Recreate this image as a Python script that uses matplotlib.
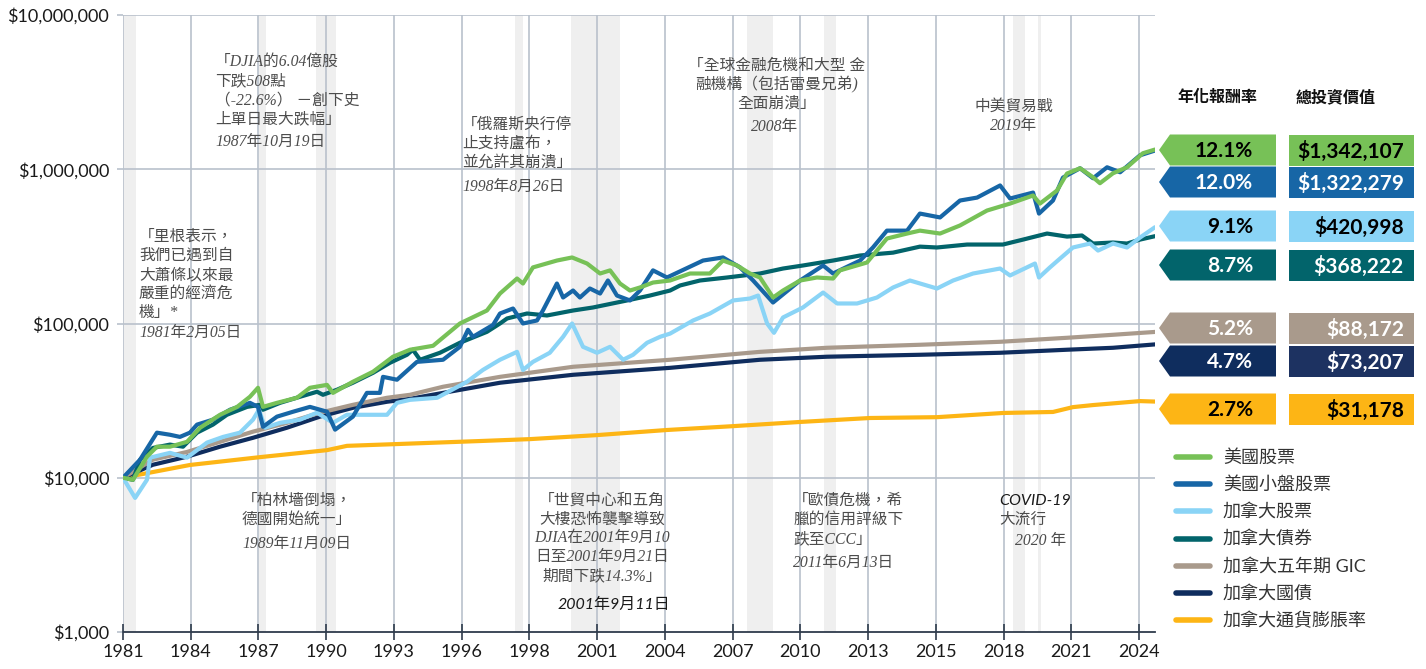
import numpy as np
import matplotlib
matplotlib.use("Agg")
import matplotlib.pyplot as plt
from matplotlib.patches import Polygon, Rectangle

plt.rcParams['font.family'] = ['Lato', 'Noto Sans CJK TC']
plt.rcParams['axes.unicode_minus'] = False

# ---- data ----
us_years = [1981.00, 1981.42, 1982.01, 1982.43, 1982.98, 1983.70, 1984.25, 1985.09, 1985.81, 1986.35,
            1986.69, 1986.90, 1987.49, 1988.33, 1988.88, 1989.60, 1989.85, 1990.69, 1991.54, 1992.38,
            1993.10, 1994.07, 1995.20, 1996.34, 1996.89, 1997.61, 1997.86, 1998.28, 1999.29, 1999.93,
            2000.56, 2001.11, 2001.53, 2001.95, 2002.37, 2002.79, 2003.34, 2004.06, 2004.90, 2005.74,
            2006.29, 2006.88, 2007.43, 2007.85, 2008.40, 2008.82, 2009.54, 2010.25, 2010.93, 2011.22,
            2012.36, 2013.20, 2014.05, 2014.59, 2015.44, 2016.28, 2017.42, 2018.39, 2019.36, 2019.65,
            2020.37, 2020.79, 2021.34, 2021.89, 2022.18, 2022.73, 2023.32, 2023.99, 2024.50]
us_values = [10000, 9700, 13700, 15900, 15900, 17100, 21100, 25600, 28800, 33500,
             38300, 28800, 30600, 33000, 38300, 40000, 35500, 41900, 48700, 60900,
             67600, 71700, 100000, 121400, 156400, 195700, 181600, 231000, 256000, 268000,
             244800, 210900, 221000, 181600, 163600, 171200, 184300, 190000, 210900, 210900,
             256000, 237700, 210900, 198700, 147400, 163600, 190000, 198700, 195700, 221000,
             248600, 355500, 383000, 400000, 383000, 432000, 540000, 599000, 676000, 599000,
             728000, 938000, 1015000, 887000, 812000, 942000, 1030000, 1270000, 1342107]

small_years = [1981.00, 1981.72, 1982.43, 1982.98, 1983.40, 1983.82, 1984.12, 1984.79, 1985.51, 1986.35,
               1986.69, 1986.90, 1987.49, 1988.17, 1988.88, 1989.60, 1989.94, 1990.69, 1991.28, 1991.83,
               1991.96, 1992.55, 1993.39, 1994.49, 1995.20, 1995.54, 1995.75, 1996.60, 1996.89, 1997.44,
               1997.86, 1998.45, 1998.70, 1999.29, 1999.55, 1999.97, 2000.26, 2000.68, 2001.11, 2001.44,
               2001.82, 2002.37, 2002.79, 2003.34, 2003.93, 2005.45, 2006.29, 2007.01, 2007.56, 2008.40,
               2009.54, 2010.51, 2010.93, 2012.07, 2012.61, 2013.20, 2014.05, 2014.59, 2015.44, 2016.28,
               2017.00, 2017.97, 2018.39, 2019.36, 2019.61, 2020.20, 2020.62, 2021.34, 2021.89, 2022.48,
               2023.03, 2023.87, 2024.50]
small_values = [10000, 13100, 19600, 19000, 18400, 19600, 22100, 23800, 27600, 30600,
                28800, 21400, 24900, 26800, 28800, 26800, 20500, 24900, 35500, 35500,
                45100, 43200, 56400, 58200, 70600, 91000, 82000, 98000, 116100, 125100,
                100000, 104600, 121400, 181600, 147400, 163600, 147400, 168600, 156400, 190000,
                151800, 141000, 163600, 221000, 198700, 256000, 268000, 231000, 190000, 136800,
                190000, 237700, 210900, 256000, 311000, 400000, 400000, 516000, 487000, 627000,
                655000, 785000, 646000, 706000, 516000, 627000, 883000, 1015000, 874000, 1030000,
                956000, 1232000, 1322279]

cad_years = [1981.00, 1981.51, 1982.01, 1982.14, 1982.98, 1983.70, 1984.54, 1985.22, 1985.93, 1986.48,
             1986.73, 1986.99, 1987.62, 1988.46, 1989.18, 1989.85, 1990.44, 1991.28, 1992.13, 1992.55,
             1993.10, 1994.24, 1995.50, 1996.17, 1996.89, 1997.61, 1997.86, 1998.28, 1998.99, 1999.55,
             1999.93, 2000.39, 2000.98, 2001.53, 2002.08, 2002.50, 2003.09, 2003.64, 2004.06, 2005.03,
             2005.74, 2006.71, 2007.43, 2007.77, 2008.15, 2008.44, 2008.82, 2009.66, 2010.51, 2011.10,
             2011.94, 2012.78, 2013.46, 2014.17, 2015.31, 2015.99, 2016.83, 2017.97, 2018.39, 2019.44,
             2019.61, 2020.07, 2020.50, 2021.04, 2021.76, 2022.10, 2022.73, 2023.32, 2023.87, 2024.50]
cad_values = [10000, 7400, 9700, 13500, 14500, 13500, 16900, 18400, 19600, 23800,
              27600, 21100, 22700, 23800, 26400, 22700, 25600, 25600, 25600, 30600,
              32000, 33000, 41900, 50000, 58200, 65500, 50000, 56400, 64600, 82000,
              100000, 70600, 64600, 70600, 58200, 62700, 75000, 82000, 86000, 104600,
              116100, 141000, 145200, 151800, 100000, 87000, 109400, 127000, 158800, 134800,
              134800, 147400, 171200, 190000, 168600, 190000, 210900, 227200, 204800, 244800,
              198700, 231000, 263800, 311000, 329900, 297000, 329900, 311000, 361000, 420998]

bond_years = [1981.00, 1981.42, 1981.72, 1982.26, 1982.98, 1983.53, 1984.12, 1984.79, 1985.38, 1986.23,
              1986.77, 1986.90, 1987.62, 1988.46, 1989.18, 1989.43, 1990.02, 1990.69, 1991.54, 1992.25,
              1992.97, 1993.22, 1993.52, 1994.36, 1995.20, 1996.34, 1996.89, 1997.19, 1998.03, 1998.87,
              1999.97, 2000.81, 2002.24, 2003.21, 2004.06, 2004.48, 2005.32, 2006.46, 2007.85, 2008.82,
              2009.66, 2010.93, 2012.07, 2013.46, 2014.59, 2015.31, 2016.58, 2018.09, 2018.94, 2019.95,
              2020.79, 2021.42, 2021.89, 2022.73, 2023.32, 2023.87, 2024.50]
bond_values = [10000, 9700, 13100, 15600, 16400, 15900, 19600, 22100, 25600, 28800,
               29700, 27600, 30600, 33500, 36100, 34500, 37200, 41300, 47900, 55600,
               62700, 67600, 58200, 64600, 75000, 88300, 100000, 107800, 116100, 112700,
               121400, 127000, 141000, 151800, 163600, 176400, 190000, 198700, 210900, 227200,
               237700, 256000, 276000, 288000, 315000, 311000, 325000, 325000, 350000, 383000,
               366000, 372000, 329900, 335000, 329900, 350000, 368222]

gic_years = [1981.00, 1982.26, 1983.70, 1985.09, 1986.48, 1987.91, 1989.30, 1990.69, 1992.13, 1993.10,
             1994.49, 1996.89, 1999.97, 2004.06, 2007.85, 2010.67, 2014.59, 2017.97, 2020.79, 2022.73,
             2024.50]
gic_values = [10000, 13100, 14700, 17100, 19900, 22700, 26400, 29700, 33000, 34500,
              38900, 45100, 52400, 58200, 65500, 69600, 72800, 76100, 80800, 84500,
              88172]

tbill_years = gic_years
tbill_values = [10000, 12140, 13700, 15900, 18160, 21100, 24900, 28400, 31100, 32500,
                35500, 41300, 46500, 51600, 58200, 60900, 62700, 64600, 67600, 69600,
                73207]

cpi_years = [1981.00, 1983.82, 1986.77, 1989.60, 1990.44, 1992.38, 1996.05, 1998.15, 2000.98, 2003.93,
             2006.71, 2009.54, 2012.49, 2015.31, 2018.09, 2020.20, 2021.04, 2021.89, 2023.87, 2024.50]
cpi_values = [10000, 12100, 13600, 15100, 16100, 16500, 17300, 17800, 18900, 20400,
              21600, 23000, 24400, 24700, 26300, 26700, 28700, 29600, 31400, 31178]

series_names = ['美國股票', '美國小盤股票', '加拿大股票', '加拿大債券', '加拿大五年期 GIC', '加拿大國債', '加拿大通貨膨脹率']
series_colors = ['#77c157', '#1766a6', '#8ad4f6', '#02646b', '#a99a8c', '#0f2d5e', '#fdb515']
annual_returns = ['12.1%', '12.0%', '9.1%', '8.7%', '5.2%', '4.7%', '2.7%']
final_values = ['$1,342,107', '$1,322,279', '$420,998', '$368,222', '$88,172', '$73,207', '$31,178']
badge_text = ['black', 'white', 'black', 'white', 'white', 'white', 'black']

x_labels = ['1981', '1984', '1987', '1990', '1993', '1996', '1998', '2001',
            '2004', '2007', '2010', '2013', '2015', '2018', '2021', '2024']
y_ticks = [1e3, 1e4, 1e5, 1e6, 1e7]
y_labels = ['$1,000', '$10,000', '$100,000', '$1,000,000', '$10,000,000']

event_bands = [(1981.0, 1981.55), (1986.73, 1987.03), (1989.13, 1989.98), (1997.52, 1997.86),
               (1999.88, 2001.95), (2007.30, 2008.40), (2010.55, 2011.05), (2018.51, 2019.02),
               (2019.57, 2019.69)]

# ---- figure ----
W, H = 1426, 669
fig = plt.figure(figsize=(W / 100, H / 100), dpi=100)
ax = fig.add_axes([123 / W, 1 - 632 / H, (1155 - 123) / W, (632 - 15) / H])
ax.set_yscale('log')
ax.set_xlim(1981.0, 2024.5)
ax.set_ylim(1e3, 1e7)

grid_c = '#b9c1cc'
for a, b in event_bands:
    ax.axvspan(a, b, color='#efefef', lw=0, zorder=0)

xt = np.linspace(1981.0, 1981.0 + 15 * 2.855, 16)
for x in xt:
    ax.axvline(x, color=grid_c, lw=1.2, zorder=1)
for y in y_ticks[1:]:
    ax.axhline(y, color=grid_c, lw=1.2, zorder=1)

data = [
    (us_years, us_values), (small_years, small_values), (cad_years, cad_values),
    (bond_years, bond_values), (gic_years, gic_values), (tbill_years, tbill_values),
    (cpi_years, cpi_values),
]
draw_order = [6, 5, 4, 2, 3, 1, 0]
for i in draw_order:
    xs, ys = data[i]
    ax.plot(xs, ys, color=series_colors[i], lw=3.0, solid_capstyle='round',
            solid_joinstyle='round', zorder=3 + (6 - i) * 0.1 if i != 0 else 3.7)

ax.set_xticks(xt)
ax.set_xticklabels(x_labels)
ax.set_yticks(y_ticks)
ax.set_yticklabels(y_labels)
ax.minorticks_off()
ax.tick_params(axis='x', direction='inout', length=11, width=1.2, color='#2f3b4c',
               labelsize=13, labelcolor='#1a1a1a', pad=3)
ax.tick_params(axis='y', direction='out', length=4, width=1.2, color=grid_c,
               labelsize=13, labelcolor='#1a1a1a', pad=6)
for s in ['left', 'right', 'top']:
    ax.spines[s].set_visible(False)
ax.spines['bottom'].set_color('#2f3b4c')
ax.spines['bottom'].set_linewidth(1.3)
ax.set_facecolor('white')

# ---- overlay in pixel coords for labels, badges, legend ----
ov = fig.add_axes([0, 0, 1, 1], zorder=5)
ov.set_xlim(0, W)
ov.set_ylim(H, 0)
ov.axis('off')

serif_it = dict(family=['Liberation Serif', 'Noto Sans CJK TC'], style='italic',
                fontsize=11.3, color='#4d4d4d')
sans_it = dict(family=['Lato', 'Noto Sans CJK TC'], style='italic', fontsize=11.5, color='#1a1a1a')


def note(lines, x, y0, ha='left', step=19, **kw):
    for k, s in enumerate(lines):
        ov.text(x, y0 + k * step, s, ha=ha, va='center', **kw)


note(['「里根表示，', '我們已遇到自', '大蕭條以來最', '嚴重的經濟危', '機」*'], 139, 237, **serif_it)
note(['1981年2月05日'], 139, 333, **serif_it)

note(['「DJIA的6.04億股', '下跌508點', '（-22.6%） －創下史', '上單日最大跌幅」'], 215, 62, **serif_it)
note(['1987年10月19日'], 215, 142, **serif_it)

note(['「俄羅斯央行停', '止支持盧布，', '並允許其崩潰」'], 462, 125, **serif_it)
note(['1998年8月26日'], 462, 187, **serif_it)

note(['「全球金融危機和大型 金', '融機構（包括雷曼兄弟)', '全面崩潰」'], 777, 66, ha='center', **serif_it)
note(['2008年'], 775, 127, ha='center', **serif_it)

note(['中美貿易戰', '2019年'], 1014, 107, ha='center', **serif_it)

note(['「柏林墻倒塌，', '德國開始統一」'], 297, 501, ha='center', **serif_it)
note(['1989年11月09日'], 297, 544, ha='center', **serif_it)

note(['「世貿中心和五角', '大樓恐怖襲擊導致', 'DJIA在2001年9月10', '日至2001年9月21日',
      '期間下跌14.3%」'], 602, 501, ha='center', step=18.7, **serif_it)
note(['2001年9月11日'], 614, 605, ha='center', **sans_it)

note(['「歐債危機，希', '臘的信用評級下', '跌至CCC」'], 793, 501, **serif_it)
note(['2011年6月13日'], 793, 563, **serif_it)

note(['COVID-19'], 999, 501, **sans_it)
note(['大流行'], 999, 520, **serif_it)
note(['2020 年'], 1015, 541, **serif_it)

# headers
ov.text(1217, 97, '年化報酬率', ha='center', va='center', fontsize=11.5, fontweight='bold', color='#111111')
ov.text(1336, 97, '總投資價值', ha='center', va='center', fontsize=11.5, fontweight='bold', color='#111111')

badge_y = [150, 182, 226, 265, 328, 361, 409]
box_colors = list(series_colors)
box_colors[5] = '#1d3261'
h = 31
for i, cy in enumerate(badge_y):
    top, bot = cy - h / 2, cy + h / 2
    ov.add_patch(Polygon([(1159, cy), (1170, top), (1276, top), (1276, bot), (1170, bot)],
                         closed=True, facecolor=series_colors[i], edgecolor='none'))
    ov.add_patch(Rectangle((1289, top), 1414 - 1289, h, facecolor=box_colors[i], edgecolor='none'))
    ov.text(1253, cy + 1, annual_returns[i], ha='right', va='center', fontsize=15,
            fontweight='bold', color=badge_text[i])
    ov.text(1404, cy + 1, final_values[i], ha='right', va='center', fontsize=15,
            fontweight='bold', color=badge_text[i])

# legend
for i, name in enumerate(series_names):
    ly = 457 + i * 27.2
    ov.plot([1176, 1210], [ly, ly], color=series_colors[i], lw=4, solid_capstyle='round')
    ov.text(1223, ly, name, ha='left', va='center', fontsize=13, color='#333333')

fig.savefig('out.png', dpi=100, facecolor='white')
